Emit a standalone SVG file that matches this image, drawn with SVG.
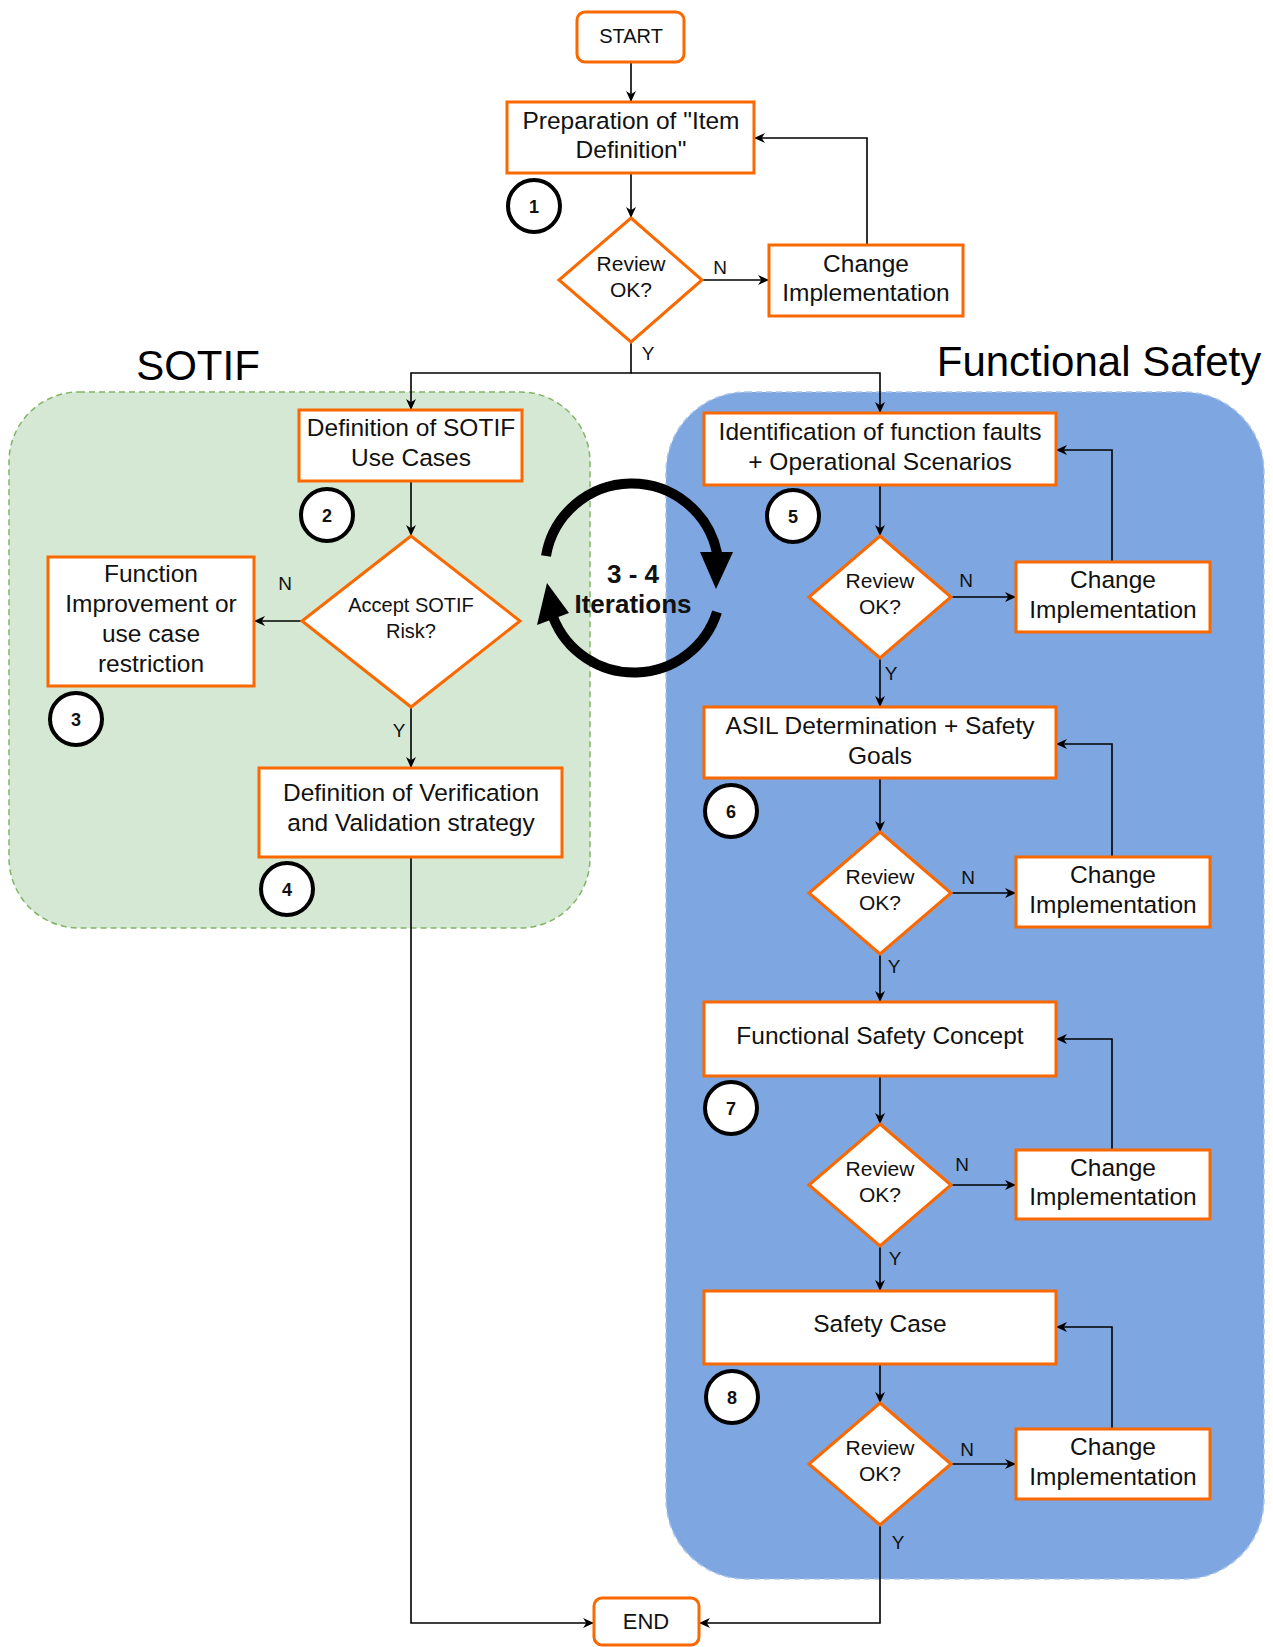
<svg xmlns="http://www.w3.org/2000/svg" width="1273" height="1647" viewBox="0 0 1273 1647">
  <style>
    text { font-family: "Liberation Sans", Arial, sans-serif; fill: #111; text-anchor: middle; }
    .box { fill: #fff; stroke: #FA6800; stroke-width: 3; }
    .lbl { font-size: 24.5px; }
    .dlbl { font-size: 21px; }
    .yn { font-size: 19px; }
    .num circle { fill: #fff; stroke: #000; stroke-width: 4; }
    .num text { font-size: 18px; font-weight: bold; }
    .edge { fill: none; stroke: #000; stroke-width: 1.6; }
    .title { font-size: 42px; fill: #000; }
  </style>
  <defs>
    <marker id="arr" viewBox="0 0 10 10" refX="10" refY="5" markerWidth="11" markerHeight="11" markerUnits="userSpaceOnUse" orient="auto">
      <path d="M0,0.5 L10,5 L0,9.5 L3,5 z" fill="#000"/>
    </marker>
  </defs>

  <!-- swimlane backgrounds -->
  <g id="lane-sotif">
    <rect x="9" y="392" width="581" height="536" rx="70" fill="#D5E8D4" stroke="#82B366" stroke-width="1.5" stroke-dasharray="6 4"/>
    <text class="title" x="198" y="380">SOTIF</text>
  </g>
  <g id="lane-fusa">
    <rect x="666" y="392" width="598" height="1187" rx="80" fill="#7EA6E0" stroke="#A9C4EC" stroke-width="1.5" stroke-dasharray="6 4"/>
    <text class="title" x="1099" y="376">Functional Safety</text>
  </g>

  <!-- connectors -->
  <g id="connectors">
    <path class="edge" d="M631,62 V102" marker-end="url(#arr)"/>
    <path class="edge" d="M631,173 V218" marker-end="url(#arr)"/>
    <path class="edge" d="M702,280 H769" marker-end="url(#arr)"/>
    <path class="edge" d="M867,245 V138 H754" marker-end="url(#arr)"/>
    <path class="edge" d="M631,342 V373 H411 V410" marker-end="url(#arr)"/>
    <path class="edge" d="M631,373 H880 V413" marker-end="url(#arr)"/>
    <text class="yn" x="720" y="274">N</text>
    <text class="yn" x="648" y="360">Y</text>

    <!-- SOTIF branch -->
    <path class="edge" d="M411,481 V536" marker-end="url(#arr)"/>
    <path class="edge" d="M302,621 H254" marker-end="url(#arr)"/>
    <path class="edge" d="M411,707 V768" marker-end="url(#arr)"/>
    <path class="edge" d="M411,857 V1623 H594" marker-end="url(#arr)"/>
    <text class="yn" x="285" y="590">N</text>
    <text class="yn" x="399" y="737">Y</text>

    <!-- functional safety branch -->
    <path class="edge" d="M880,485 V536" marker-end="url(#arr)"/>
    <path class="edge" d="M951,597 H1016" marker-end="url(#arr)"/>
    <path class="edge" d="M1112,562 V450 H1056" marker-end="url(#arr)"/>
    <path class="edge" d="M880,658 V707" marker-end="url(#arr)"/>
    <text class="yn" x="966" y="587">N</text>
    <text class="yn" x="891" y="680">Y</text>

    <path class="edge" d="M880,778 V832" marker-end="url(#arr)"/>
    <path class="edge" d="M951,893 H1016" marker-end="url(#arr)"/>
    <path class="edge" d="M1112,857 V744 H1056" marker-end="url(#arr)"/>
    <path class="edge" d="M880,954 V1002" marker-end="url(#arr)"/>
    <text class="yn" x="968" y="884">N</text>
    <text class="yn" x="894" y="973">Y</text>

    <path class="edge" d="M880,1076 V1124" marker-end="url(#arr)"/>
    <path class="edge" d="M951,1185 H1016" marker-end="url(#arr)"/>
    <path class="edge" d="M1112,1150 V1039 H1056" marker-end="url(#arr)"/>
    <path class="edge" d="M880,1246 V1291" marker-end="url(#arr)"/>
    <text class="yn" x="962" y="1171">N</text>
    <text class="yn" x="895" y="1265">Y</text>

    <path class="edge" d="M880,1364 V1403" marker-end="url(#arr)"/>
    <path class="edge" d="M951,1464 H1016" marker-end="url(#arr)"/>
    <path class="edge" d="M1112,1429 V1327 H1056" marker-end="url(#arr)"/>
    <path class="edge" d="M880,1525 V1623 H699" marker-end="url(#arr)"/>
    <text class="yn" x="967" y="1456">N</text>
    <text class="yn" x="898" y="1549">Y</text>
  </g>

  <!-- iteration cycle between the two lanes -->
  <g id="iteration-cycle">
    <path d="M546,556 A87,87 0 0 1 717,553" fill="none" stroke="#000" stroke-width="10"/>
    <polygon points="700,552 733,552 716,589" fill="#000"/>
    <path d="M717,612 A87,87 0 0 1 553,617" fill="none" stroke="#000" stroke-width="10"/>
    <polygon points="537,625 569,613 547,583" fill="#000"/>
    <text x="633" y="583" style="font-size:26px;font-weight:bold">3 - 4</text>
    <text x="633" y="613" style="font-size:26px;font-weight:bold">Iterations</text>
  </g>

  <!-- main flow -->
  <g id="start">
    <rect class="box" x="577" y="12" width="107" height="50" rx="8"/>
    <text x="631" y="43" style="font-size:20px">START</text>
  </g>
  <g id="item-definition">
    <rect class="box" x="507" y="102" width="247" height="71"/>
    <text class="lbl" x="631" y="129">Preparation of "Item</text>
    <text class="lbl" x="631" y="158">Definition"</text>
  </g>
  <g id="step-1" class="num"><circle cx="534" cy="206" r="26"/><text x="534" y="212.5">1</text></g>
  <g id="review-1">
    <polygon class="box" points="631,218 702,280 631,342 559,280"/>
    <text class="dlbl" x="631" y="271">Review</text>
    <text class="dlbl" x="631" y="297">OK?</text>
  </g>
  <g id="change-1">
    <rect class="box" x="769" y="245" width="194" height="71"/>
    <text class="lbl" x="866" y="272">Change</text>
    <text class="lbl" x="866" y="301">Implementation</text>
  </g>

  <!-- SOTIF steps -->
  <g id="sotif-use-cases">
    <rect class="box" x="299" y="410" width="223" height="71"/>
    <text class="lbl" x="411" y="436">Definition of SOTIF</text>
    <text class="lbl" x="411" y="466">Use Cases</text>
  </g>
  <g id="step-2" class="num"><circle cx="327" cy="515" r="26"/><text x="327" y="521.5">2</text></g>
  <g id="accept-risk">
    <polygon class="box" points="411,536 520,621 411,707 302,621"/>
    <text x="411" y="612" style="font-size:20px">Accept SOTIF</text>
    <text x="411" y="638" style="font-size:20px">Risk?</text>
  </g>
  <g id="function-improvement">
    <rect class="box" x="48" y="557" width="206" height="129"/>
    <text class="lbl" x="151" y="581.5">Function</text>
    <text class="lbl" x="151" y="612">Improvement or</text>
    <text class="lbl" x="151" y="642">use case</text>
    <text class="lbl" x="151" y="672">restriction</text>
  </g>
  <g id="step-3" class="num"><circle cx="76" cy="719" r="26"/><text x="76" y="725.5">3</text></g>
  <g id="vv-strategy">
    <rect class="box" x="259" y="768" width="303" height="89"/>
    <text class="lbl" x="411" y="801">Definition of Verification</text>
    <text class="lbl" x="411" y="831">and Validation strategy</text>
  </g>
  <g id="step-4" class="num"><circle cx="287" cy="889" r="26"/><text x="287" y="895.5">4</text></g>

  <!-- functional safety steps -->
  <g id="function-faults">
    <rect class="box" x="704" y="413" width="352" height="72"/>
    <text class="lbl" x="880" y="440">Identification of function faults</text>
    <text class="lbl" x="880" y="470">+ Operational Scenarios</text>
  </g>
  <g id="step-5" class="num"><circle cx="793" cy="516" r="26"/><text x="793" y="522.5">5</text></g>
  <g id="review-5">
    <polygon class="box" points="880,536 951,597 880,658 809,597"/>
    <text class="dlbl" x="880" y="588">Review</text>
    <text class="dlbl" x="880" y="614">OK?</text>
  </g>
  <g id="change-5">
    <rect class="box" x="1016" y="562" width="194" height="70"/>
    <text class="lbl" x="1113" y="588">Change</text>
    <text class="lbl" x="1113" y="618">Implementation</text>
  </g>

  <g id="asil">
    <rect class="box" x="704" y="707" width="352" height="71"/>
    <text class="lbl" x="880" y="734">ASIL Determination + Safety</text>
    <text class="lbl" x="880" y="764">Goals</text>
  </g>
  <g id="step-6" class="num"><circle cx="731" cy="811" r="26"/><text x="731" y="817.5">6</text></g>
  <g id="review-6">
    <polygon class="box" points="880,832 951,893 880,954 809,893"/>
    <text class="dlbl" x="880" y="884">Review</text>
    <text class="dlbl" x="880" y="910">OK?</text>
  </g>
  <g id="change-6">
    <rect class="box" x="1016" y="857" width="194" height="70"/>
    <text class="lbl" x="1113" y="883">Change</text>
    <text class="lbl" x="1113" y="913">Implementation</text>
  </g>

  <g id="fsc">
    <rect class="box" x="704" y="1002" width="352" height="74"/>
    <text class="lbl" x="880" y="1044">Functional Safety Concept</text>
  </g>
  <g id="step-7" class="num"><circle cx="731" cy="1108" r="26"/><text x="731" y="1114.5">7</text></g>
  <g id="review-7">
    <polygon class="box" points="880,1124 951,1185 880,1246 809,1185"/>
    <text class="dlbl" x="880" y="1176">Review</text>
    <text class="dlbl" x="880" y="1202">OK?</text>
  </g>
  <g id="change-7">
    <rect class="box" x="1016" y="1150" width="194" height="69"/>
    <text class="lbl" x="1113" y="1176">Change</text>
    <text class="lbl" x="1113" y="1205">Implementation</text>
  </g>

  <g id="safety-case">
    <rect class="box" x="704" y="1291" width="352" height="73"/>
    <text class="lbl" x="880" y="1332">Safety Case</text>
  </g>
  <g id="step-8" class="num"><circle cx="732" cy="1397" r="26"/><text x="732" y="1403.5">8</text></g>
  <g id="review-8">
    <polygon class="box" points="880,1403 951,1464 880,1525 809,1464"/>
    <text class="dlbl" x="880" y="1455">Review</text>
    <text class="dlbl" x="880" y="1481">OK?</text>
  </g>
  <g id="change-8">
    <rect class="box" x="1016" y="1429" width="194" height="70"/>
    <text class="lbl" x="1113" y="1455">Change</text>
    <text class="lbl" x="1113" y="1485">Implementation</text>
  </g>

  <g id="end">
    <rect class="box" x="594" y="1598" width="105" height="47" rx="8"/>
    <text x="646" y="1629" style="font-size:22px">END</text>
  </g>
</svg>
